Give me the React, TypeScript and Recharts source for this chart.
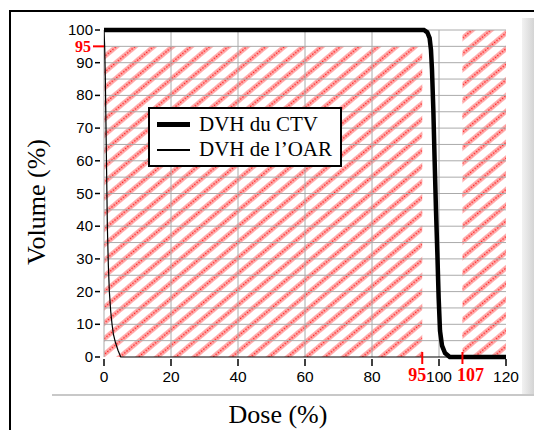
import { LineChart, Line, XAxis, YAxis, ReferenceArea, ReferenceLine } from 'recharts';

// DVH curves (dose %, volume %)
const ctvDose = [0, 95.5, 96.5, 97.2, 97.6, 97.9, 98.3, 98.7, 99.1, 99.5, 99.9, 100.3, 100.9, 101.8, 103.2, 120];
const ctvVolume = [100, 100, 99.3, 97.5, 94, 88, 76, 60, 45, 32, 18, 8, 3.5, 1.2, 0, 0];
const oarDose = [0, 0.2, 0.4, 0.6, 0.8, 1.0, 1.3, 1.6, 2.0, 2.4, 2.8, 3.4, 4.2, 5, 120];
const oarVolume = [100, 95, 85, 70, 55, 40, 28, 20, 14, 10, 7, 4.5, 2, 0, 0];

const seriesNames = ['DVH du CTV', 'DVH de l\u2019OAR'];

const xTicks = [0, 20, 40, 60, 80, 95, 100, 107, 120];
const yTicks = [0, 10, 20, 30, 40, 50, 60, 70, 80, 90, 95, 100];
const redTicks = [95, 107];
const gridX = [0, 20, 40, 60, 80, 100];
const gridY = [5, 10, 15, 20, 25, 30, 35, 40, 45, 50, 55, 60, 65, 70, 75, 80, 85, 90, 95, 100];

const ctvData = ctvDose.map((d, i) => ({ dose: d, volume: ctvVolume[i] }));
const oarData = oarDose.map((d, i) => ({ dose: d, volume: oarVolume[i] }));

const W = 534;
const H = 430;

function XTick({ x, y, payload }: any) {
  const v = payload.value;
  if (redTicks.includes(v)) {
    const dx = v === 95 ? -5 : 8;
    return (
      <g>
        <line x1={x} x2={x} y1={y - 5} y2={y + 7} stroke="#ff0000" strokeWidth={2} />
        <text x={x + dx} y={y + 24} textAnchor="middle" fill="#ff0000" fontFamily="Liberation Serif" fontWeight="bold" fontSize={18}>
          {v}
        </text>
      </g>
    );
  }
  return (
    <g>
      <line x1={x} x2={x} y1={y + 2} y2={y + 9} stroke="#000" strokeWidth={1.5} />
      <text x={x} y={y + 25} textAnchor="middle" fill="#000" fontFamily="Liberation Sans" fontSize={15.5}>
        {v}
      </text>
    </g>
  );
}

function YTick({ x, y, payload }: any) {
  const v = payload.value;
  if (v === 95) {
    return (
      <g>
        <line x1={x - 11} x2={x} y1={y} y2={y} stroke="#ff0000" strokeWidth={2} />
        <text x={x - 13} y={y + 6} textAnchor="end" fill="#ff0000" fontFamily="Liberation Serif" fontWeight="bold" fontSize={16}>
          {v}
        </text>
      </g>
    );
  }
  return (
    <g>
      <line x1={x - 9} x2={x - 4} y1={y} y2={y} stroke="#000" strokeWidth={1.5} />
      <text x={x - 11} y={y + 5} textAnchor="end" fill="#000" fontFamily="Liberation Sans" fontSize={15}>
        {v}
      </text>
    </g>
  );
}

export default function App() {
  return (
    <div style={{ position: 'absolute', left: 0, top: 0, width: W, height: H, overflow: 'hidden', background: '#fff' }}>
      {/* outer frame */}
      <div style={{ position: 'absolute', left: 9, top: 10, width: 560, height: 460, border: '2px solid #000' }} />
      {/* panel shading */}
      <div
        style={{
          position: 'absolute',
          left: 522,
          top: 18,
          width: 14,
          height: 377,
          background: 'linear-gradient(to right, #f2f2f2, #cfcfcf)',
        }}
      />
      <div style={{ position: 'absolute', left: 52, top: 394, width: 484, height: 2, background: '#c8c8c8' }} />

      <div style={{ position: 'absolute', left: 0, top: 0 }}>
        <LineChart width={W} height={H} margin={{ top: 30, right: 28, left: 44, bottom: 43 }}>
          <defs>
            <pattern id="hatch" patternUnits="userSpaceOnUse" width={12} height={12} patternTransform="rotate(-40)">
              <rect x={0} y={0} width={12} height={5} fill="#ffb0b0" />
              <line x1={0} x2={12} y1={2.5} y2={2.5} stroke="#ff1f1f" strokeWidth={1.3} strokeDasharray="1.5 1.5" />
            </pattern>
          </defs>
          <XAxis
            type="number"
            dataKey="dose"
            domain={[0, 120]}
            ticks={xTicks}
            interval={0}
            height={30}
            tickSize={0}
            tickMargin={0}
            axisLine={false}
            tickLine={false}
            tick={<XTick />}
            allowDataOverflow
          />
          <YAxis
            type="number"
            domain={[0, 100]}
            ticks={yTicks}
            interval={0}
            width={60}
            tickSize={0}
            tickMargin={0}
            axisLine={false}
            tickLine={false}
            tick={<YTick />}
          />
          <ReferenceArea x1={0} x2={95} y1={0} y2={95} fill="url(#hatch)" fillOpacity={1} stroke="none" ifOverflow="visible" />
          <ReferenceArea x1={107} x2={120} y1={0} y2={100} fill="url(#hatch)" fillOpacity={1} stroke="none" ifOverflow="visible" />
          {gridX.map((v) => (
            <ReferenceLine key={'gx' + v} x={v} stroke="#aaaaaa" strokeWidth={1} />
          ))}
          {gridY.map((v) => (
            <ReferenceLine key={'gy' + v} y={v} stroke="#aaaaaa" strokeWidth={1} />
          ))}
          <Line
            data={oarData}
            dataKey="volume"
            type="linear"
            stroke="#000"
            strokeWidth={1.2}
            dot={false}
            isAnimationActive={false}
          />
          <Line
            data={ctvData}
            dataKey="volume"
            type="linear"
            stroke="#000"
            strokeWidth={4.5}
            dot={false}
            isAnimationActive={false}
          />
        </LineChart>
      </div>

      {/* legend */}
      <div
        style={{
          position: 'absolute',
          left: 148,
          top: 107,
          padding: '3px 8px 3px 7px',
          border: '2px solid #000',
          background: '#fff',
          fontFamily: 'Liberation Serif',
          fontSize: 21,
          lineHeight: '25px',
        }}
      >
        {seriesNames.map((name, i) => (
          <div key={name} style={{ display: 'flex', alignItems: 'center', whiteSpace: 'nowrap' }}>
            <span style={{ display: 'inline-block', width: 33, height: i === 0 ? 5 : 2, background: '#000', marginRight: 9 }} />
            <span>{name}</span>
          </div>
        ))}
      </div>

      {/* axis titles */}
      <svg width={W} height={H} style={{ position: 'absolute', left: 0, top: 0, pointerEvents: 'none' }}>
        <text
          x={45}
          y={202}
          transform="rotate(-90 45 202)"
          textAnchor="middle"
          fontFamily="Liberation Serif"
          fontSize={26}
          fill="#000"
        >
          Volume (%)
        </text>
        <text x={278} y={423} textAnchor="middle" fontFamily="Liberation Serif" fontSize={26} fill="#000">
          Dose (%)
        </text>
      </svg>
    </div>
  );
}
